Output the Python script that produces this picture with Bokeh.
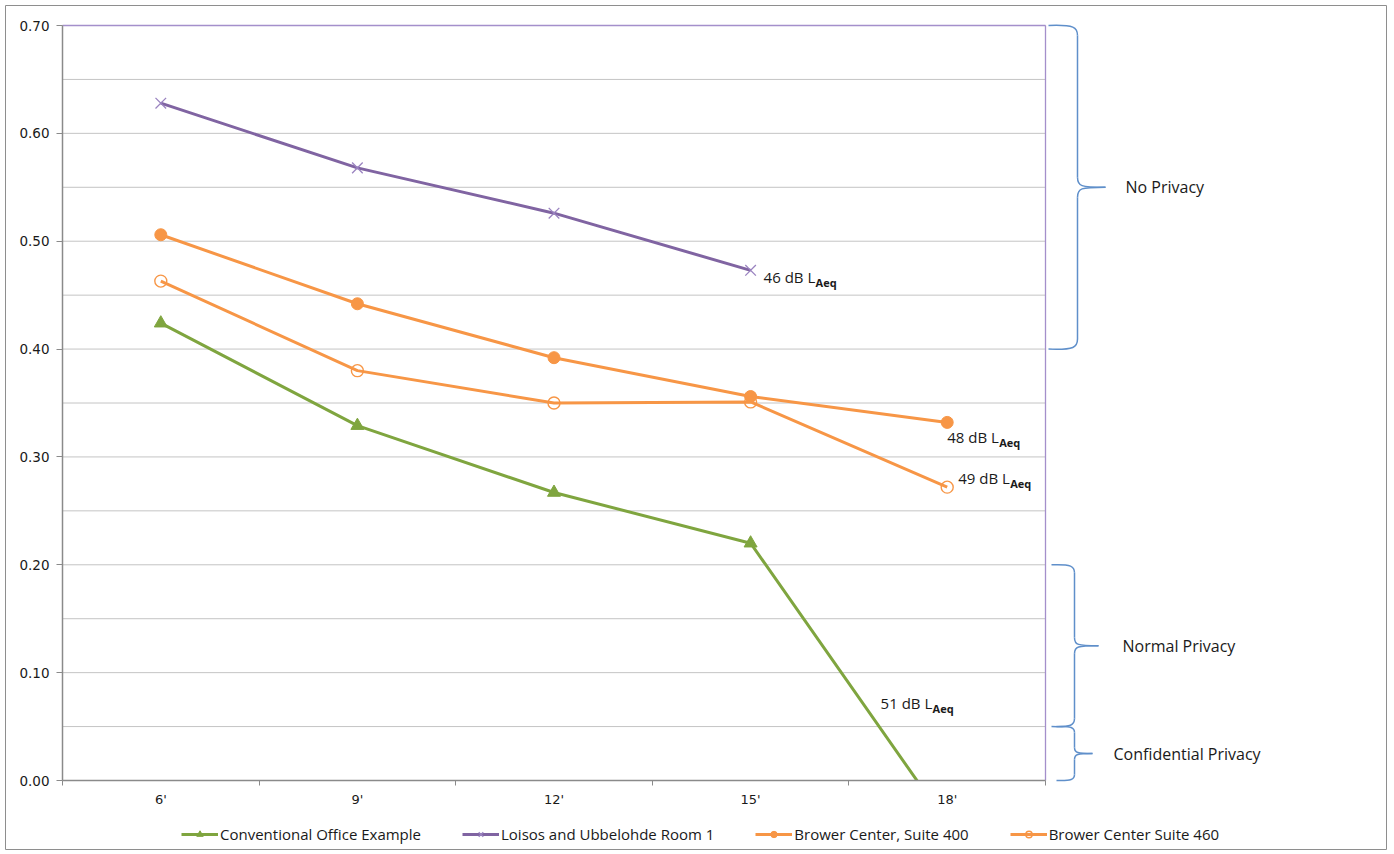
from bokeh.plotting import figure
from bokeh.models import Range1d, FixedTicker, Legend, LegendItem, NumeralTickFormatter
from bokeh.core.properties import value
from bokeh.embed import file_html
from bokeh.resources import INLINE

# ---------------- data ----------------
distances = ["6'", "9'", "12'", "15'", "18'"]
conventional = [0.424, 0.329, 0.267, 0.220, -0.040]
loisos = [0.628, 0.568, 0.526, 0.473]
brower400 = [0.506, 0.442, 0.392, 0.356, 0.332]
brower460 = [0.463, 0.380, 0.350, 0.351, 0.272]

y_major = [0.0, 0.1, 0.2, 0.3, 0.4, 0.5, 0.6, 0.7]
y_minor = [0.05, 0.15, 0.25, 0.35, 0.45, 0.55, 0.65]

privacy_names = ["No Privacy", "Normal Privacy", "Confidential Privacy"]
privacy_low = [0.40, 0.05, 0.00]
privacy_high = [0.70, 0.20, 0.05]

end_labels = ["46 dB L", "48 dB L", "49 dB L", "51 dB L"]
end_sub = "Aeq"

# ---------------- styling / geometry ----------------
GREEN = "#7fa53f"
PURPLE = "#8064a2"
ORANGE = "#f79646"
BRACE = "#5f8fca"
GRID = "#c4c4c4"
AXIS = "#8a8a8a"
FRAME_PURPLE = "#a48fcb"
TXT = "#1a1a1a"
FONT = "Open Sans"

W, H = 1392, 852
PLOT_L, PLOT_T, PLOT_B = 62, 25, 780      # plot-area edges in canvas pixels
X_UNIT = 196.6                             # pixels per category
Y_TOP = 0.70
Y_UNIT = (PLOT_B - PLOT_T) / Y_TOP         # pixels per unit of y

n = len(distances)
xs = list(range(n))

x_start = -0.5 - PLOT_L / X_UNIT
x_end = -0.5 + (W - PLOT_L) / X_UNIT
y_start = -(H - PLOT_B) / Y_UNIT
y_end = Y_TOP + PLOT_T / Y_UNIT

p = figure(frame_width=W, frame_height=H, output_backend="svg", toolbar_location=None,
           x_range=Range1d(x_start, x_end), y_range=Range1d(y_start, y_end),
           min_border=0)
p.title.visible = False
p.outline_line_color = None
p.xgrid.visible = False
p.ygrid.visible = False
p.background_fill_color = "white"
p.border_fill_color = "white"

# pixel-based ranges for decorations
p.extra_x_ranges = {"px": Range1d(0, W)}
p.extra_y_ranges = {"py": Range1d(H, 0)}

# gridlines (every 0.05) within plot area
gy = sorted(y_major + y_minor)
p.segment(x0=[-0.5] * len(gy), y0=gy, x1=[n - 0.5] * len(gy), y1=gy,
          line_color=GRID, line_width=1)

# axes (drawn inside the frame at fixed locations)
xa = p.xaxis[0]
xa.fixed_location = 0
xa.ticker = FixedTicker(ticks=xs, minor_ticks=[i - 0.5 for i in range(n + 1)])
xa.major_label_overrides = {i: d for i, d in enumerate(distances)}
xa.bounds = (-0.5, n - 0.5)
xa.major_tick_out = 0
xa.major_tick_in = 0
xa.minor_tick_out = 5
xa.minor_tick_in = 0
xa.minor_tick_line_color = AXIS
xa.axis_line_color = AXIS
xa.axis_line_width = 1.5
xa.major_label_standoff = 6
xa.major_label_text_font = "DejaVu Sans"
xa.major_label_text_font_size = "13px"
xa.major_label_text_color = TXT

ya = p.yaxis[0]
ya.fixed_location = -0.5
ya.ticker = FixedTicker(ticks=y_major, minor_ticks=y_minor)
ya.formatter = NumeralTickFormatter(format="0.00")
ya.bounds = (0, Y_TOP)
ya.major_tick_out = 6
ya.major_tick_in = 0
ya.minor_tick_out = 0
ya.minor_tick_in = 0
ya.major_tick_line_color = AXIS
ya.axis_line_color = AXIS
ya.axis_line_width = 1.5
ya.major_label_standoff = 7
ya.major_label_text_font = "DejaVu Sans"
ya.major_label_text_font_size = "13.5px"
ya.major_label_text_color = TXT

# series
LW = 3
r_c_line = p.line(xs, conventional, line_color=GREEN, line_width=LW)
r_c_mark = p.scatter(xs, conventional, marker="triangle", size=13,
                     fill_color=GREEN, line_color=GREEN)

xl = list(range(len(loisos)))
r_l_line = p.line(xl, loisos, line_color=PURPLE, line_width=LW)
r_l_mark = p.scatter(xl, loisos, marker="x", size=15, line_color="#9a83c0", line_width=1.3)

r_b4_line = p.line(xs, brower400, line_color=ORANGE, line_width=LW)
r_b4_mark = p.scatter(xs, brower400, marker="circle", size=12,
                      fill_color=ORANGE, line_color=ORANGE)

r_b6_line = p.line(xs, brower460, line_color=ORANGE, line_width=LW)
r_b6_mark = p.scatter(xs, brower460, marker="circle", size=12,
                      fill_color=None, line_color=ORANGE, line_width=1.4)

# hide anything below the 0.00 baseline (value axis minimum is 0)
p.quad(left=[-0.5], right=[n - 0.5], bottom=[y_start], top=[0],
       fill_color="white", line_color=None)

# plot-area border (top and right)
p.segment(x0=[-0.5, n - 0.5], y0=[Y_TOP, 0.0], x1=[n - 0.5, n - 0.5], y1=[Y_TOP, Y_TOP],
          line_color=FRAME_PURPLE, line_width=1.3)

# outer chart border
p.quad(left=[5], right=[1386], top=[5], bottom=[849], x_range_name="px", y_range_name="py",
       fill_color=None, line_color="#8e8e8e", line_width=1)

# end labels (L with subscript Aeq)
anchors = [(3, loisos[3]), (4, brower400[4]), (4, brower460[4]), (3, conventional[3])]
offs = [(13, 7), (0, 15), (11, -9), (130, 160)]
ax_ = [a[0] for a in anchors]
ay_ = [a[1] for a in anchors]
p.text(x=ax_, y=ay_, text=end_labels, x_offset=[o[0] for o in offs],
       y_offset=[o[1] for o in offs], text_font=value(FONT), text_font_size="15px",
       text_color=TXT, text_align="left", text_baseline="middle")
p.text(x=ax_, y=ay_, text=[end_sub] * len(end_labels),
       x_offset=[o[0] + 52 for o in offs], y_offset=[o[1] + 5 for o in offs],
       text_font=value(FONT), text_font_size="11px", text_font_style="bold",
       text_color=TXT, text_align="left", text_baseline="middle")

# privacy braces (x in canvas pixels, y in data)
brace_x = [(1048, 1077, 1105), (1051, 1074, 1098), (1056, 1074, 1092)]
brace_r = [10, 8, 6]
label_x = [1125, 1122, 1113]
bx0, by0, bx1, by1, bcx0, bcy0, bcx1, bcy1 = [], [], [], [], [], [], [], []
sx0, sy0, sx1, sy1 = [], [], [], []
mids = []
for lo, hi, (xl_, xv, xt), rp in zip(privacy_low, privacy_high, brace_x, brace_r):
    r = rp / Y_UNIT
    mid = (lo + hi) / 2
    mids.append(mid)
    curves = [
        ((xl_, hi), (xv, hi - r), (xv - 3, hi + 0.1 * r), (xv, hi - 0.2 * r)),
        ((xv, mid + r), (xt, mid), (xv, mid + 0.1 * r), (xv + 3, mid)),
        ((xt, mid), (xv, mid - r), (xv + 3, mid), (xv, mid - 0.1 * r)),
        ((xv, lo + r), (xl_, lo), (xv, lo + 0.2 * r), (xv - 3, lo - 0.1 * r)),
    ]
    for (a, b, c0, c1) in curves:
        bx0.append(a[0]); by0.append(a[1]); bx1.append(b[0]); by1.append(b[1])
        bcx0.append(c0[0]); bcy0.append(c0[1]); bcx1.append(c1[0]); bcy1.append(c1[1])
    sx0 += [xv, xv]; sy0 += [hi - r, mid - r]; sx1 += [xv, xv]; sy1 += [mid + r, lo + r]

p.bezier(x0=bx0, y0=by0, x1=bx1, y1=by1, cx0=bcx0, cy0=bcy0, cx1=bcx1, cy1=bcy1,
         line_color=BRACE, line_width=1.5, x_range_name="px")
p.segment(x0=sx0, y0=sy0, x1=sx1, y1=sy1, line_color=BRACE, line_width=1.5,
          x_range_name="px")
p.text(x=label_x, y=mids, text=privacy_names, x_range_name="px",
       text_font=value(FONT), text_font_size="16px", text_color=TXT,
       text_align="left", text_baseline="middle")

# legend (inside the frame, under the axis)
legend = Legend(items=[
    LegendItem(label="Conventional Office Example", renderers=[r_c_line, r_c_mark]),
    LegendItem(label="Loisos and Ubbelohde Room 1", renderers=[r_l_line, r_l_mark]),
    LegendItem(label="Brower Center, Suite 400", renderers=[r_b4_line, r_b4_mark]),
    LegendItem(label="Brower Center Suite 460", renderers=[r_b6_line, r_b6_mark]),
], orientation="horizontal", location=(181, 8), glyph_width=37, glyph_height=16,
    label_standoff=2, spacing=41, padding=2, margin=0, border_line_color=None,
    background_fill_alpha=0, label_text_font=FONT, label_text_font_size="15px",
    label_text_color=TXT, label_height=16)
p.add_layout(legend, "center")

open("out.html", "w").write(file_html(p, INLINE))
